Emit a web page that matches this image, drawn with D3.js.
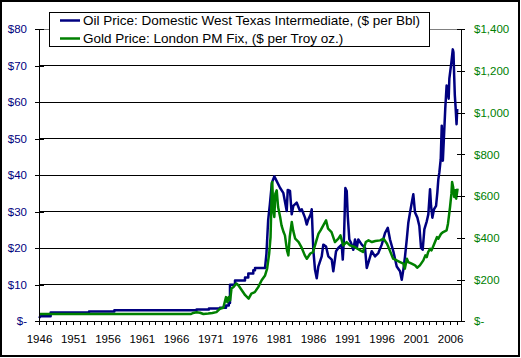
<!DOCTYPE html>
<html>
<head>
<meta charset="utf-8">
<script src="https://cdn.jsdelivr.net/npm/d3@7"></script>
<style>
html,body{margin:0;padding:0;background:#fff;}
svg{display:block;font-family:"Liberation Sans",Arial,sans-serif;}
</style>
</head>
<body>
<svg id="chart" width="521" height="358"></svg>
<script>
// ---- Data ----
const seriesNames = ["Oil Price: Domestic West Texas Intermediate, ($ per Bbl)", "Gold Price: London PM Fix, ($ per Troy oz.)"];

const oilYears = [1946.00,1946.25,1947.70,1947.70,1953.30,1953.30,1957.00,1957.00,1969.00,1969.00,1970.80,1970.80,1972.40,1972.40,1973.30,1973.30,1973.70,1973.70,1973.88,1973.88,1974.61,1974.61,1976.07,1976.07,1976.55,1976.55,1977.28,1977.28,1977.53,1977.53,1978.99,1979.20,1979.45,1979.70,1980.00,1980.35,1981.18,1981.66,1982.16,1982.31,1982.64,1982.89,1983.12,1983.62,1984.10,1984.35,1984.83,1985.08,1985.31,1985.66,1985.81,1986.04,1986.29,1986.54,1986.77,1987.27,1987.50,1987.90,1988.23,1988.73,1988.96,1989.36,1989.69,1990.19,1990.34,1990.53,1990.72,1990.92,1991.07,1991.30,1991.55,1991.88,1992.13,1992.38,1992.61,1993.11,1993.59,1993.84,1994.07,1994.57,1995.05,1995.53,1996.03,1996.51,1996.91,1997.24,1997.72,1998.22,1998.70,1998.95,1999.18,1999.43,1999.68,1999.91,2000.16,2000.41,2000.64,2000.89,2001.23,2001.52,2001.77,2002.01,2002.25,2002.60,2002.83,2003.08,2003.23,2003.42,2003.66,2003.96,2004.15,2004.29,2004.44,2004.64,2004.79,2004.95,2005.10,2005.30,2005.50,2005.66,2005.80,2005.90,2006.20,2006.40,2006.50,2006.60,2006.70,2006.80,2006.95,2007.05];
const oilPrices = [0.9,1.4,1.4,2.4,2.4,2.7,2.7,3.0,3.0,3.2,3.2,3.5,3.5,3.7,3.7,4.3,4.3,5.0,5.0,10.0,10.0,11.2,11.2,12.0,12.0,13.1,13.1,14.0,14.0,14.6,14.6,18.5,27.7,32.0,38.0,39.7,36.6,35.2,30.2,36.0,35.7,29.3,31.6,32.5,30.2,30.7,28.4,26.5,27.9,29.3,30.7,19.6,14.1,11.8,15.0,17.8,21.0,20.5,17.8,16.9,13.7,19.2,20.1,21.0,16.9,23.3,36.5,35.7,28.8,22.4,21.5,19.6,22.4,20.1,22.4,21.0,20.1,14.6,16.0,19.2,17.8,18.7,21.0,24.2,25.6,22.4,19.2,15.0,13.7,11.4,14.1,17.8,22.4,27.0,29.8,32.5,34.8,29.8,28.4,26.1,20.1,19.6,25.2,27.4,29.3,36.2,31.6,28.4,30.7,31.6,35.3,38.9,40.8,44.4,53.6,44.0,50.0,58.2,64.6,63.2,61.0,66.5,71.0,74.5,73.7,67.4,61.9,59.0,54.0,58.2];

const goldYears = [1946.00,1968.20,1968.50,1969.00,1969.50,1970.00,1970.70,1971.30,1971.90,1972.40,1972.90,1973.30,1973.50,1973.70,1973.90,1974.10,1974.40,1974.80,1975.10,1975.60,1976.10,1976.60,1977.00,1977.50,1978.00,1978.50,1979.00,1979.30,1979.60,1979.80,1980.00,1980.05,1980.20,1980.35,1980.50,1980.70,1980.90,1981.20,1981.40,1981.70,1981.90,1982.20,1982.40,1982.60,1982.90,1983.10,1983.40,1983.90,1984.30,1984.80,1985.10,1985.60,1986.00,1986.50,1986.80,1987.10,1987.50,1987.90,1988.20,1988.70,1989.20,1989.70,1990.00,1990.40,1990.90,1991.40,1992.10,1992.90,1993.30,1993.70,1994.10,1994.60,1995.10,1995.80,1996.30,1996.80,1997.20,1997.70,1998.20,1998.70,1999.20,1999.40,1999.70,1999.90,2000.40,2000.90,2001.20,2001.60,2002.10,2002.40,2002.60,2002.80,2003.10,2003.30,2003.70,2004.10,2004.30,2004.70,2005.00,2005.50,2005.70,2006.00,2006.20,2006.30,2006.45,2006.60,2006.80,2006.90,2007.10];
const goldPrices = [35,35,40,43,41,35,37,40,44,60,65,116,92,116,100,157,164,181,173,149,125,109,133,140,164,197,220,253,325,404,660,668,532,500,612,628,548,500,460,428,412,340,316,404,476,436,396,380,356,316,300,325,332,388,420,436,460,484,444,428,380,396,412,364,380,364,356,340,332,380,388,380,385,388,396,372,340,300,292,284,276,252,300,284,276,268,257,268,292,316,308,332,348,340,372,404,396,420,428,436,468,548,612,668,644,596,628,588,636];

const oilTicks = [0,10,20,30,40,50,60,70,80];
const goldTicks = [0,200,400,600,800,1000,1200,1400];
const yearLabels = [1946,1951,1956,1961,1966,1971,1976,1981,1986,1991,1996,2001,2006];
const yearTicks = d3.range(1946, 2008);

// ---- Layout ----
const svg = d3.select("#chart");
const L = 39, R = 461, T = 29.3, B = 321.3;
const OIL = "#000080", GOLD = "#008000";
const fs = "11.5px";

svg.append("rect").attr("x",1).attr("y",1).attr("width",518).attr("height",355)
  .attr("fill","#fff").attr("stroke","#000").attr("stroke-width",2);

const x = d3.scaleLinear().domain([1946, 2007.6]).range([L, R]);
const yL = d3.scaleLinear().domain([0, 80]).range([B, T]);
const yR = d3.scaleLinear().domain([0, 1400]).range([B, T]);

// gridlines
svg.append("g").selectAll("line").data(oilTicks.filter(d => d > 0 && d < 80)).join("line")
  .attr("x1", L).attr("x2", R).attr("y1", d => yL(d)).attr("y2", d => yL(d))
  .attr("stroke", "#000").attr("stroke-width", 1).attr("shape-rendering","crispEdges");
svg.append("line").attr("x1", L).attr("x2", R).attr("y1", yL(80)).attr("y2", yL(80))
  .attr("stroke", "#808080").attr("stroke-width", 1).attr("shape-rendering","crispEdges");

// lines
const oilData = oilYears.map((y, i) => [y, oilPrices[i]]);
const goldData = goldYears.map((y, i) => [y, goldPrices[i]]);
svg.append("path").datum(oilData)
  .attr("d", d3.line().x(d => x(d[0])).y(d => yL(d[1])))
  .attr("fill","none").attr("stroke",OIL).attr("stroke-width",2.5).attr("stroke-linejoin","round");
svg.append("path").datum(goldData)
  .attr("d", d3.line().x(d => x(d[0])).y(d => yR(d[1])))
  .attr("fill","none").attr("stroke",GOLD).attr("stroke-width",2.5).attr("stroke-linejoin","round");

// left axis
const fmtOil = d => d === 0 ? "$-" : "$" + d;
const gL = svg.append("g").attr("transform", `translate(${L},0)`)
  .call(d3.axisLeft(yL).tickValues(oilTicks).tickFormat(fmtOil).tickSize(4).tickPadding(8));
gL.select(".domain").remove();
gL.selectAll(".tick line").attr("x1", 5).attr("stroke","#000").attr("shape-rendering","crispEdges");
gL.selectAll(".tick text").attr("fill", OIL).style("font-size", fs).style("font-family","Liberation Sans, Arial, sans-serif");
svg.append("line").attr("x1",L).attr("x2",L).attr("y1",T).attr("y2",B).attr("stroke","#000").attr("shape-rendering","crispEdges");

// right axis
const fmtGold = d => d === 0 ? "$-" : "$" + d3.format(",")(d);
const gR = svg.append("g").attr("transform", `translate(${R},0)`)
  .call(d3.axisRight(yR).tickValues(goldTicks).tickFormat(fmtGold).tickSize(4).tickPadding(9));
gR.select(".domain").remove();
gR.selectAll(".tick line").attr("x1", -4).attr("stroke","#000").attr("shape-rendering","crispEdges");
gR.selectAll(".tick text").attr("fill", GOLD).style("font-size", fs).style("font-family","Liberation Sans, Arial, sans-serif");
svg.append("line").attr("x1",R).attr("x2",R).attr("y1",T).attr("y2",B).attr("stroke","#000").attr("shape-rendering","crispEdges");

// bottom axis
const gB = svg.append("g").attr("transform", `translate(0,${B})`)
  .call(d3.axisBottom(x).tickValues(yearTicks).tickFormat(d => yearLabels.includes(d) ? String(d) : "").tickSize(4).tickPadding(10));
gB.select(".domain").remove();
gB.selectAll(".tick line").attr("stroke","#000").attr("shape-rendering","crispEdges");
gB.selectAll(".tick text").attr("fill","#000").style("font-size", fs).style("font-family","Liberation Sans, Arial, sans-serif");
svg.append("line").attr("x1",L-4).attr("x2",R+4).attr("y1",B).attr("y2",B).attr("stroke","#000").attr("shape-rendering","crispEdges");

// legend
const lg = svg.append("g");
lg.append("rect").attr("x",49.5).attr("y",12.5).attr("width",380).attr("height",34)
  .attr("fill","#fff").attr("stroke","#000").attr("stroke-width",1);
const legColors = [OIL, GOLD];
const legY = [20.5, 38.5];
seriesNames.forEach((name, i) => {
  lg.append("line").attr("x1",60).attr("x2",80).attr("y1",legY[i]).attr("y2",legY[i])
    .attr("stroke",legColors[i]).attr("stroke-width",2.5);
  lg.append("text").attr("x",83).attr("y",legY[i]).attr("dy","0.35em")
    .style("font-size","13.5px").attr("fill","#000").text(name);
});
</script>
</body>
</html>
